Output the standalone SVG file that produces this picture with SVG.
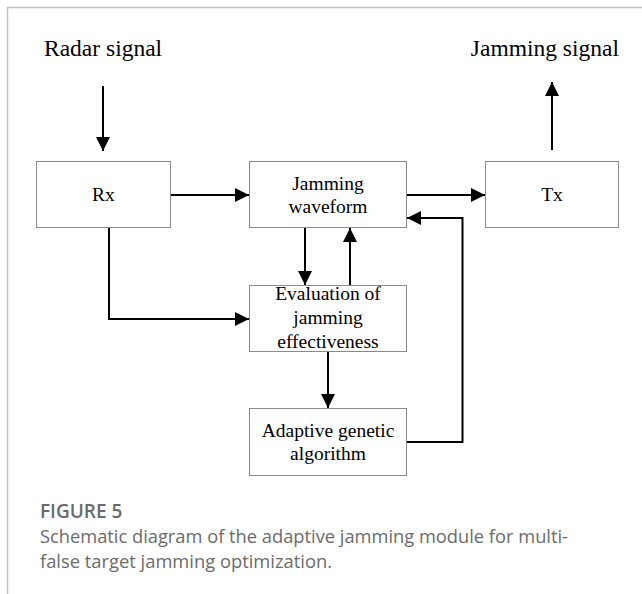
<svg xmlns="http://www.w3.org/2000/svg" width="642" height="594" viewBox="0 0 642 594">
<defs>
<style>
.box{fill:#fff;stroke:#8a8a8a;stroke-width:1}
.t{font-family:"Liberation Serif","Times New Roman",serif;font-size:19.5px;fill:#000;text-anchor:middle}
.big{font-family:"Liberation Serif","Times New Roman",serif;font-size:23.5px;fill:#000}
.c{fill:none;stroke:#000;stroke-width:2}
.cap{font-family:"Open Sans","Noto Sans",sans-serif;fill:#6b6b6b}
</style>
<marker id="ah" viewBox="0 0 14 14" refX="14" refY="7" markerWidth="14" markerHeight="14" markerUnits="userSpaceOnUse" orient="auto">
<path d="M0,0 L14,7 L0,14 Z" fill="#000"/>
</marker>
</defs>
<rect width="642" height="594" fill="#fff"/>
<path d="M7.5,594 V7.5 H642" fill="none" stroke="#c4c4c4" stroke-width="1.5"/>

<text class="big" x="44" y="56">Radar signal</text>
<text class="big" x="619" y="56" text-anchor="end">Jamming signal</text>

<g id="rx"><rect class="box" x="36.5" y="161.5" width="134" height="66"/><text class="t" x="103.5" y="201">Rx</text></g>
<g id="jw"><rect class="box" x="249.5" y="161.5" width="157" height="66"/><text class="t" x="328" y="190">Jamming</text><text class="t" x="328" y="213">waveform</text></g>
<g id="tx"><rect class="box" x="485.5" y="161.5" width="133" height="66"/><text class="t" x="552" y="201">Tx</text></g>
<g id="eval"><rect class="box" x="249.5" y="285.5" width="157" height="66"/><text class="t" x="328" y="300">Evaluation of</text><text class="t" x="328" y="324">jamming</text><text class="t" x="328" y="348">effectiveness</text></g>
<g id="aga"><rect class="box" x="249.5" y="408.5" width="157" height="67"/><text class="t" x="328" y="437">Adaptive genetic</text><text class="t" x="328" y="460">algorithm</text></g>

<g id="connectors">
<path class="c" d="M103,86 V151" marker-end="url(#ah)"/>
<path class="c" d="M552,150 V82" marker-end="url(#ah)"/>
<path class="c" d="M171,195 H249" marker-end="url(#ah)"/>
<path class="c" d="M407,195 H485" marker-end="url(#ah)"/>
<path class="c" d="M305,228 V285" marker-end="url(#ah)"/>
<path class="c" d="M350,285 V228" marker-end="url(#ah)"/>
<path class="c" d="M109,228 V319 H249" marker-end="url(#ah)"/>
<path class="c" d="M328,352 V408" marker-end="url(#ah)"/>
<path class="c" d="M407,442 H462.5 V218 H407" marker-end="url(#ah)"/>
</g>

<text class="cap" x="40" y="518" font-size="19" font-weight="600">FIGURE 5</text>
<text class="cap" x="40" y="543" font-size="17.5" textLength="528" lengthAdjust="spacingAndGlyphs">Schematic diagram of the adaptive jamming module for multi-</text>
<text class="cap" x="40" y="568" font-size="17.5" textLength="292" lengthAdjust="spacingAndGlyphs">false target jamming optimization.</text>
</svg>
